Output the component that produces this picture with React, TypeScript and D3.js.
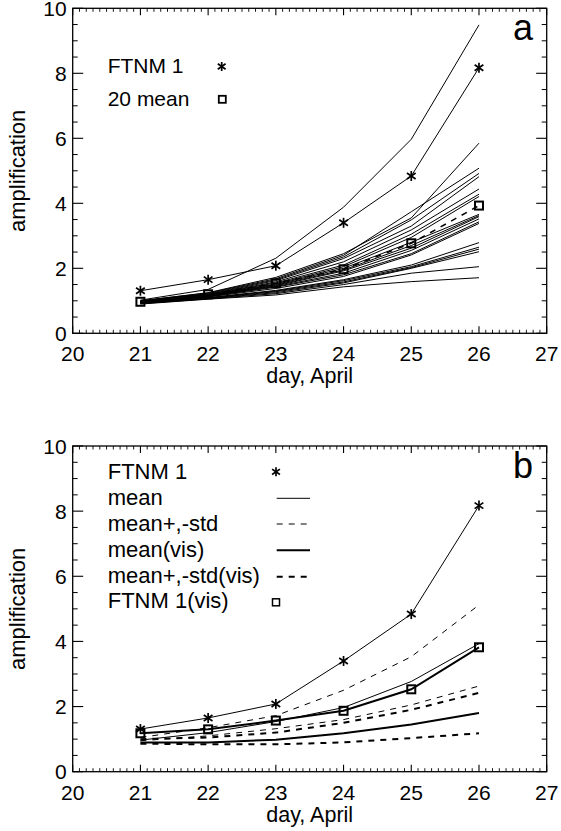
import React from "react";
import * as d3 from "d3";

// ---------- data ----------
const days = [21, 22, 23, 24, 25, 26];
const xTickLabels = ["20", "21", "22", "23", "24", "25", "26", "27"];
const yTickLabels = ["0", "2", "4", "6", "8", "10"];

// panel a: 20 ensemble members
const ensembleMembers: number[][] = [
  [1.02, 1.35, 2.31, 3.88, 5.97, 9.49],
  [1.0, 1.25, 1.72, 2.45, 3.55, 5.85],
  [1.0, 1.24, 1.68, 2.4, 3.74, 5.08],
  [0.99, 1.22, 1.65, 2.35, 3.49, 4.92],
  [0.98, 1.2, 1.62, 2.3, 3.3, 4.82],
  [0.98, 1.19, 1.58, 2.2, 3.18, 4.44],
  [0.97, 1.18, 1.55, 2.1, 3.05, 4.28],
  [0.97, 1.17, 1.52, 2.05, 2.95, 4.21],
  [0.96, 1.16, 1.5, 2.0, 2.8, 3.66],
  [0.96, 1.15, 1.48, 1.95, 2.7, 3.62],
  [0.95, 1.15, 1.46, 1.92, 2.62, 3.59],
  [0.95, 1.14, 1.44, 1.85, 2.55, 3.52],
  [0.94, 1.13, 1.42, 1.8, 2.45, 3.43],
  [0.94, 1.12, 1.38, 1.75, 2.41, 3.38],
  [0.93, 1.1, 1.32, 1.65, 2.1, 2.79],
  [0.93, 1.09, 1.3, 1.62, 2.05, 2.65],
  [0.92, 1.08, 1.28, 1.58, 2.02, 2.59],
  [0.92, 1.07, 1.25, 1.55, 2.0, 2.51],
  [0.91, 1.06, 1.22, 1.5, 1.85, 2.05],
  [0.9, 1.05, 1.18, 1.43, 1.59, 1.71],
];
const ftnm1 = [1.31, 1.65, 2.08, 3.4, 4.84, 8.17];
const mean20 = [0.97, 1.2, 1.54, 1.97, 2.77, 3.93];

// panel b
const meanPlusStd = [1.05, 1.35, 1.72, 2.5, 3.53, 5.12];
const meanMinusStd = [0.95, 1.1, 1.32, 1.6, 2.05, 2.63];
const meanVis = [0.9, 0.9, 0.98, 1.18, 1.45, 1.8];
const meanVisPlusStd = [1.0, 1.05, 1.2, 1.5, 1.9, 2.42];
const meanVisMinusStd = [0.86, 0.84, 0.84, 0.9, 1.03, 1.18];
const ftnm1Vis = [1.18, 1.3, 1.57, 1.87, 2.53, 3.82];

const legendA = ["FTNM 1", "20 mean"];
const legendB = ["FTNM 1", "mean", "mean+,-std", "mean(vis)", "mean+,-std(vis)", "FTNM 1(vis)"];

// ---------- drawing helpers ----------
const FONT = "'Liberation Sans', Arial, Helvetica, sans-serif";
const X0 = 72.7;
const X1 = 546.7;

const Asterisk = ({ x, y, s = 5 }: { x: number; y: number; s?: number }) => (
  <g stroke="#000" strokeWidth={1.7}>
    <line x1={x} y1={y - s} x2={x} y2={y + s} />
    <line x1={x - s * 0.87} y1={y - s * 0.6} x2={x + s * 0.87} y2={y + s * 0.6} />
    <line x1={x - s * 0.87} y1={y + s * 0.6} x2={x + s * 0.87} y2={y - s * 0.6} />
  </g>
);

const Square = ({ x, y, s = 7, w = 1.8 }: { x: number; y: number; s?: number; w?: number }) => (
  <rect x={x - s / 2} y={y - s / 2} width={s} height={s} fill="none" stroke="#000" strokeWidth={w} />
);

function Axes({ y0, y10, letter }: { y0: number; y10: number; letter: string }) {
  const x = d3.scaleLinear().domain([20, 27]).range([X0, X1]);
  const y = d3.scaleLinear().domain([0, 10]).range([y0, y10]);
  const xMinor = d3.range(200, 271).map((v) => v / 10).filter((v) => Math.abs(v - Math.round(v)) > 1e-6);
  const xMajor = d3.range(20, 28);
  const yMinor = d3.range(0, 21).map((v) => v / 2).filter((v) => v % 2 !== 0);
  const yMajor = d3.range(0, 11, 2);
  const top = y(10);
  const bot = y(0);
  return (
    <g>
      <rect x={X0} y={top} width={X1 - X0} height={bot - top} fill="none" stroke="#000" strokeWidth={1.3} />
      {xMinor.map((v) => (
        <g key={"xm" + v} stroke="#000" strokeWidth={0.9}>
          <line x1={x(v)} x2={x(v)} y1={bot} y2={bot - 3.5} />
          <line x1={x(v)} x2={x(v)} y1={top} y2={top + 3.5} />
        </g>
      ))}
      {xMajor.map((v) => (
        <g key={"xM" + v} stroke="#000" strokeWidth={1.1}>
          <line x1={x(v)} x2={x(v)} y1={bot} y2={bot - 7} />
          <line x1={x(v)} x2={x(v)} y1={top} y2={top + 7} />
        </g>
      ))}
      {yMinor.map((v) => (
        <g key={"ym" + v} stroke="#000" strokeWidth={1}>
          <line x1={X0} x2={X0 + 5} y1={y(v)} y2={y(v)} />
          <line x1={X1} x2={X1 - 5} y1={y(v)} y2={y(v)} />
        </g>
      ))}
      {yMajor.map((v) => (
        <g key={"yM" + v} stroke="#000" strokeWidth={1.1}>
          <line x1={X0} x2={X0 + 10.5} y1={y(v)} y2={y(v)} />
          <line x1={X1} x2={X1 - 10.5} y1={y(v)} y2={y(v)} />
        </g>
      ))}
      {xMajor.map((v, i) => (
        <text key={"xl" + v} x={x(v)} y={bot + 28} textAnchor="middle" fontSize={21} fontFamily={FONT}>
          {xTickLabels[i]}
        </text>
      ))}
      {yMajor.map((v, i) => (
        <text key={"yl" + v} x={X0 - 6} y={y(v) + 7.5} textAnchor="end" fontSize={21} fontFamily={FONT}>
          {yTickLabels[i]}
        </text>
      ))}
      <text x={(X0 + X1) / 2} y={bot + 50} textAnchor="middle" fontSize={21.5} fontFamily={FONT}>
        day, April
      </text>
      <text
        transform={`translate(25,${(top + bot) / 2}) rotate(-90)`}
        textAnchor="middle"
        fontSize={22}
        fontFamily={FONT}
      >
        amplification
      </text>
      <text x={533} y={top + 32} textAnchor="end" fontSize={36} fontFamily={FONT}>
        {letter}
      </text>
    </g>
  );
}

function PanelA() {
  const y0 = 333.3;
  const y10 = 8.3;
  const x = d3.scaleLinear().domain([20, 27]).range([X0, X1]);
  const y = d3.scaleLinear().domain([0, 10]).range([y0, y10]);
  const line = d3
    .line<number>()
    .x((_, i) => x(days[i]))
    .y((d) => y(d));
  return (
    <g>
      {ensembleMembers.map((m, i) => (
        <path key={i} d={line(m) || ""} fill="none" stroke="#000" strokeWidth={1} />
      ))}
      <path d={line(ftnm1) || ""} fill="none" stroke="#000" strokeWidth={1} />
      <path d={line(mean20) || ""} fill="none" stroke="#000" strokeWidth={1.5} strokeDasharray="6,6" />
      {ftnm1.map((v, i) => (
        <Asterisk key={"a" + i} x={x(days[i])} y={y(v)} />
      ))}
      {mean20.map((v, i) => (
        <Square key={"s" + i} x={x(days[i])} y={y(v)} s={8} w={2} />
      ))}
      <Axes y0={y0} y10={y10} letter="a" />
      <text x={107.7} y={73.3} fontSize={21} fontFamily={FONT}>
        {legendA[0]}
      </text>
      <text x={107.7} y={106} fontSize={21} fontFamily={FONT}>
        {legendA[1]}
      </text>
      <Asterisk x={221.7} y={66.5} s={4.5} />
      <Square x={222.3} y={99.3} s={7} w={1.8} />
    </g>
  );
}

function PanelB() {
  const y0 = 771.7;
  const y10 = 446;
  const x = d3.scaleLinear().domain([20, 27]).range([X0, X1]);
  const y = d3.scaleLinear().domain([0, 10]).range([y0, y10]);
  const line = d3
    .line<number>()
    .x((_, i) => x(days[i]))
    .y((d) => y(d));
  const rows = [479.3, 505.3, 531, 556.7, 582.7, 608.3];
  const lx0 = 276.7;
  const lx1 = 310;
  return (
    <g>
      <path d={line(ftnm1) || ""} fill="none" stroke="#000" strokeWidth={1} />
      <path d={line(mean20) || ""} fill="none" stroke="#000" strokeWidth={1} />
      <path d={line(meanPlusStd) || ""} fill="none" stroke="#000" strokeWidth={1} strokeDasharray="6,6" />
      <path d={line(meanMinusStd) || ""} fill="none" stroke="#000" strokeWidth={1} strokeDasharray="6,6" />
      <path d={line(meanVis) || ""} fill="none" stroke="#000" strokeWidth={2} />
      <path d={line(meanVisPlusStd) || ""} fill="none" stroke="#000" strokeWidth={2} strokeDasharray="6,6" />
      <path d={line(meanVisMinusStd) || ""} fill="none" stroke="#000" strokeWidth={2} strokeDasharray="6,6" />
      <path d={line(ftnm1Vis) || ""} fill="none" stroke="#000" strokeWidth={2} />
      {ftnm1.map((v, i) => (
        <Asterisk key={"a" + i} x={x(days[i])} y={y(v)} />
      ))}
      {ftnm1Vis.map((v, i) => (
        <Square key={"s" + i} x={x(days[i])} y={y(v)} s={8} w={2} />
      ))}
      <Axes y0={y0} y10={y10} letter="b" />
      {legendB.map((t, i) => (
        <text key={t} x={107.7} y={rows[i]} fontSize={22} fontFamily={FONT}>
          {t}
        </text>
      ))}
      <Asterisk x={276} y={rows[0] - 7.5} s={4.5} />
      <line x1={lx0} x2={lx1} y1={rows[1] - 7} y2={rows[1] - 7} stroke="#000" strokeWidth={1} />
      <line x1={lx0} x2={lx1} y1={rows[2] - 7} y2={rows[2] - 7} stroke="#000" strokeWidth={1} strokeDasharray="6,6" />
      <line x1={lx0} x2={lx1} y1={rows[3] - 6.5} y2={rows[3] - 6.5} stroke="#000" strokeWidth={2} />
      <line x1={lx0} x2={lx1} y1={rows[4] - 6} y2={rows[4] - 6} stroke="#000" strokeWidth={2} strokeDasharray="6,6" />
      <Square x={276} y={rows[5] - 6} s={7} w={1.5} />
    </g>
  );
}

export default function App() {
  return (
    <svg
      width={561}
      height={831}
      viewBox="0 0 561 831"
      style={{ position: "absolute", left: 0, top: 0, background: "#fff" }}
    >
      <rect width={561} height={831} fill="#fff" />
      <PanelA />
      <PanelB />
    </svg>
  );
}
